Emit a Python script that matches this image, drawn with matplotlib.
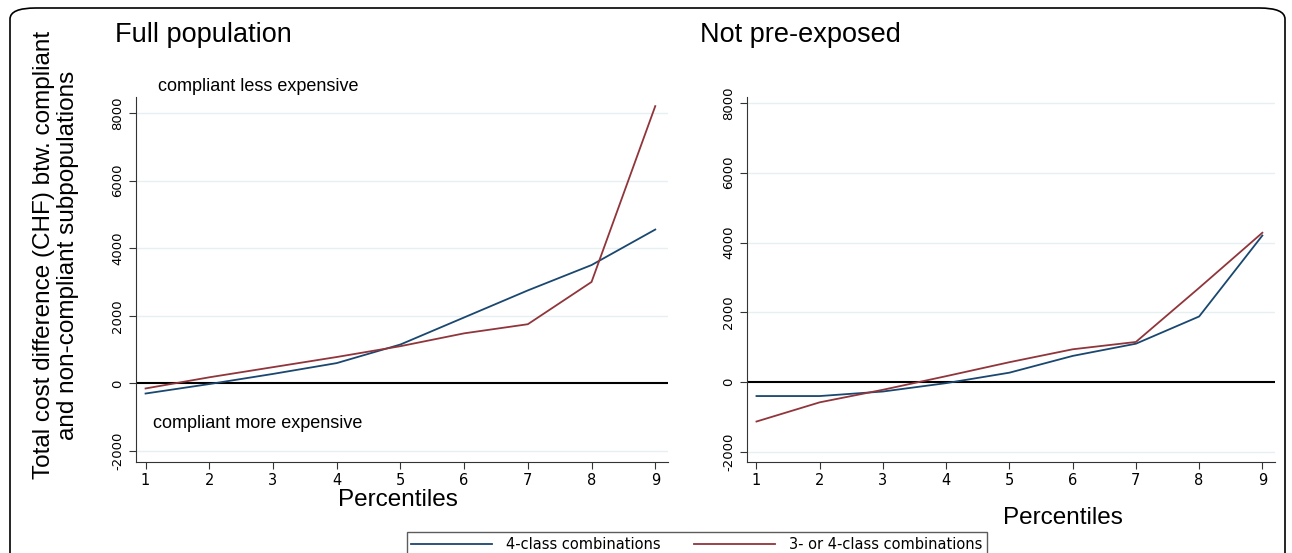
import matplotlib.pyplot as plt
from matplotlib.patches import FancyBboxPatch
from matplotlib.lines import Line2D

# percentile positions
percentiles = [1, 2, 3, 4, 5, 6, 7, 8, 9]

# Full population
full_4class = [-300, -20, 280, 600, 1150, 1950, 2750, 3500, 4550]
full_34class = [-150, 180, 480, 780, 1100, 1480, 1750, 3000, 8200]

# Not pre-exposed
notpre_4class = [-400, -400, -270, -30, 270, 750, 1100, 1880, 4200]
notpre_34class = [-1130, -580, -220, 170, 570, 940, 1150, 2700, 4280]

y_ticks = [-2000, 0, 2000, 4000, 6000, 8000]
series_names = ['4-class combinations', '3- or 4-class combinations']

navy = '#1a476f'
maroon = '#90353b'
grid_col = '#e6eff1'

W, H = 1292, 553
fig = plt.figure(figsize=(W / 100, H / 100), dpi=100)
plt.rcParams['font.family'] = ['DejaVu Sans']


def px_axes(x0, x1, y_top, y_bot):
    return fig.add_axes([x0 / W, 1 - y_bot / H, (x1 - x0) / W, (y_bot - y_top) / H])


def style(ax, ylim):
    ax.set_xlim(0.85, 9.2)
    ax.set_ylim(*ylim)
    ax.set_xticks(percentiles)
    ax.set_yticks(y_ticks)
    ax.set_yticklabels([str(t) for t in y_ticks], rotation=90, va='center')
    ax.tick_params(axis='y', labelsize=9.5, length=5, color='#333333')
    ax.tick_params(axis='x', labelsize=10.5, length=5, pad=3, color='#333333')
    for s in ['top', 'right']:
        ax.spines[s].set_visible(False)
    for s in ['left', 'bottom']:
        ax.spines[s].set_color('#333333')
    for t in y_ticks:
        if t != 0:
            ax.axhline(t, color=grid_col, lw=1, zorder=0)
    ax.axhline(0, color='black', lw=1.5, zorder=1)


ax1 = px_axes(136, 668, 97, 462)
style(ax1, (-2325, 8470))
ax1.plot(percentiles, full_4class, color=navy, lw=1.3, zorder=3)
ax1.plot(percentiles, full_34class, color=maroon, lw=1.3, zorder=3)
ax1.text(1.19, 8770, 'compliant less expensive', fontsize=13, family='Liberation Sans',
         va='center', ha='left', clip_on=False)
ax1.text(1.11, -1180, 'compliant more expensive', fontsize=13, family='Liberation Sans',
         va='center', ha='left')

ax2 = px_axes(747, 1275, 97, 462)
style(ax2, (-2290, 8170))
ax2.plot(percentiles, notpre_4class, color=navy, lw=1.3, zorder=3)
ax2.plot(percentiles, notpre_34class, color=maroon, lw=1.3, zorder=3)

# titles and axis labels
fig.text(115 / W, 1 - 35 / H, 'Full population', fontsize=19.5, family='Liberation Sans',
         va='center', ha='left')
fig.text(700 / W, 1 - 35 / H, 'Not pre-exposed', fontsize=19.5, family='Liberation Sans',
         va='center', ha='left')
fig.text(398 / W, 1 - 489 / H, 'Percentiles', fontsize=17.5, family='Liberation Sans',
         va='top', ha='center')
fig.text(1063 / W, 1 - 518 / H, 'Percentiles', fontsize=17.5, family='Liberation Sans',
         va='center', ha='center')
fig.text(56 / W, 1 - 255 / H,
         'Total cost difference (CHF) btw. compliant\nand non-compliant subpopulations',
         fontsize=17.5, family='Liberation Sans', rotation=90, va='center', ha='center',
         multialignment='center', linespacing=1.1)

# legend
handles = [Line2D([], [], color=navy, lw=1.3), Line2D([], [], color=maroon, lw=1.3)]
leg = fig.legend(handles, series_names, loc='upper center', ncol=2,
                 bbox_to_anchor=(697 / W, 1 - 525 / H), fontsize=10.5, frameon=True,
                 fancybox=False, edgecolor='#333333', handlelength=5.5, columnspacing=2.3,
                 borderpad=0.3, handletextpad=1.0)
leg.get_frame().set_linewidth(1)

# rounded outer frame
frame = FancyBboxPatch((10 / W, -0.2), (1285 - 10) / W, 1.2 - 8 / H,
                       boxstyle='round,pad=0,rounding_size=0.02',
                       transform=fig.transFigure, fill=False, edgecolor='black', lw=1.2,
                       clip_on=False)
fig.patches.append(frame)

fig.savefig('out.png', dpi=100)
